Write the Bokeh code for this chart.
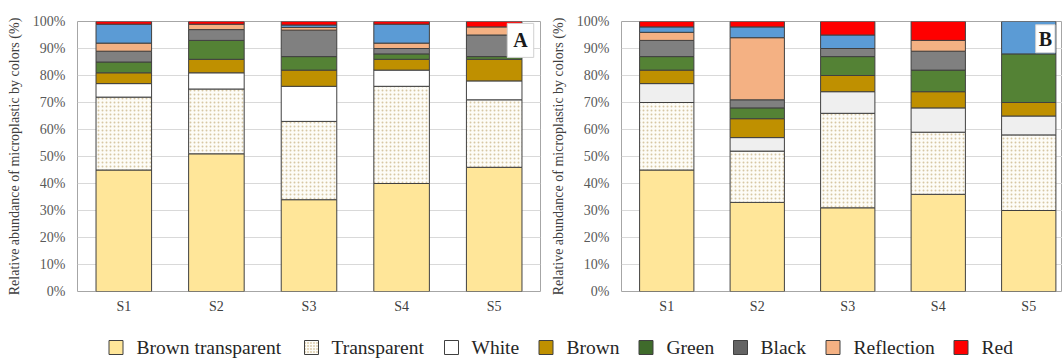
import numpy as np
from bokeh.plotting import figure
from bokeh.layouts import column, row
from bokeh.models import Range1d, FixedTicker, Label, ColumnDataSource
from bokeh.core.properties import value
from bokeh.embed import file_html
from bokeh.resources import INLINE

sites = ["S1", "S2", "S3", "S4", "S5"]
layer_names = ["Brown transparent", "Transparent", "White", "Brown", "Green",
               "Black", "Reflection", "Blue", "Red"]
legend_names = ["Brown transparent", "Transparent", "White", "Brown", "Green",
                "Black", "Reflection", "Red"]
y_ticks = [0, 10, 20, 30, 40, 50, 60, 70, 80, 90, 100]

# Panel A: relative abundance (%) of each colour per site
a_brown_transparent = [45, 51, 34, 40, 46]
a_transparent = [27, 24, 29, 36, 25]
a_white = [5, 6, 13, 6, 7]
a_brown = [4, 5, 6, 4, 8]
a_green = [4, 7, 5, 2, 1]
a_black = [4, 4, 9.8, 2, 8]
a_reflection = [3, 2, 1, 2, 3]
a_blue = [7, 0, 0.9, 7, 0]
a_red = [1, 1, 1.3, 1, 2]

# Panel B: relative abundance (%) of each colour per site
b_brown_transparent = [45, 33, 31, 36, 30]
b_transparent = [25, 19, 35, 23, 28]
b_white = [7, 5, 8, 9, 7]
b_brown = [5, 7, 6, 6, 5]
b_green = [5, 4, 7, 8, 18]
b_black = [6, 3, 3, 7, 0]
b_reflection = [3, 23, 0, 4, 0]
b_blue = [2, 4, 5, 0, 12]
b_red = [2, 2, 5, 7, 0]

SERIF = "'Liberation Serif', 'Times New Roman', serif"
OUTLINE = "#404040"

fills = {
    "Brown transparent": "#FFE699",
    "Transparent": "#FDFCF7",
    "White": "#FFFFFF",
    "Brown": "#BF9000",
    "Green": "#548235",
    "Black": "#808080",
    "Reflection": "#F4B183",
    "Blue": "#5B9BD5",
    "Red": "#FF0000",
}
legend_fills = dict(fills, Green="#3F6B2B", Black="#636363")


def layer_style(name, white_fill):
    style = dict(fill_color=fills[name], line_color=OUTLINE, line_width=1)
    if name == "White":
        style["fill_color"] = white_fill
    if name == "Transparent":
        style.update(hatch_pattern=".", hatch_color="#B89B5E", hatch_alpha=0.55,
                     hatch_scale=4, hatch_weight=1)
    return style


def make_panel(series, width, x_end, border_left, border_right, border_top,
               border_bottom, white_fill):
    p = figure(width=width, height=320, x_range=Range1d(-0.5, x_end),
               y_range=Range1d(0, 100), output_backend="svg",
               toolbar_location=None, min_border_left=border_left,
               min_border_right=border_right, min_border_top=border_top,
               min_border_bottom=border_bottom)
    p.background_fill_color = "white"
    p.border_fill_color = "white"
    p.outline_line_color = "#A6A6A6"
    p.outline_line_width = 1
    p.xgrid.grid_line_color = None
    p.ygrid.grid_line_color = "#D9D9D9"
    p.ygrid.ticker = FixedTicker(ticks=y_ticks)

    x = np.arange(len(sites))
    base = np.zeros(len(sites))
    for name, vals in zip(layer_names, series):
        vals = np.asarray(vals, dtype=float)
        keep = vals > 0
        src = ColumnDataSource(dict(x=x[keep], bottom=base[keep],
                                    top=(base + vals)[keep]))
        p.vbar(x="x", bottom="bottom", top="top", width=0.6, source=src,
               **layer_style(name, white_fill))
        base = base + vals

    xa = p.xaxis[0]
    xa.ticker = FixedTicker(ticks=list(range(len(sites))))
    xa.major_label_overrides = {i: s for i, s in enumerate(sites)}
    xa.axis_line_color = None
    xa.major_tick_line_color = None
    xa.minor_tick_line_color = None
    xa.major_tick_out = 0
    xa.major_tick_in = 0
    xa.major_label_standoff = 7
    xa.major_label_text_font = SERIF
    xa.major_label_text_font_size = "14px"
    xa.major_label_text_color = "#404040"

    ya = p.yaxis[0]
    ya.ticker = FixedTicker(ticks=y_ticks)
    ya.major_label_overrides = {t: f"{t}%" for t in y_ticks}
    ya.axis_line_color = None
    ya.major_tick_line_color = None
    ya.minor_tick_line_color = None
    ya.major_tick_out = 0
    ya.major_tick_in = 0
    ya.major_label_standoff = 12
    ya.major_label_text_font = SERIF
    ya.major_label_text_font_size = "14px"
    ya.major_label_text_color = "#595959"
    ya.axis_label = "Relative abundance of microplastic by colors (%)"
    ya.axis_label_text_font = SERIF
    ya.axis_label_text_font_size = "14px"
    ya.axis_label_text_font_style = "normal"
    ya.axis_label_text_color = "#404040"
    ya.axis_label_standoff = 8
    return p


series_a = [a_brown_transparent, a_transparent, a_white, a_brown, a_green,
            a_black, a_reflection, a_blue, a_red]
series_b = [b_brown_transparent, b_transparent, b_white, b_brown, b_green,
            b_black, b_reflection, b_blue, b_red]

pA = make_panel(series_a, 545, 4.5, 77, 5, 15, 26, "#FFFFFF")
pB = make_panel(series_b, 517, 4.373, 76, 0, 21, 29, "#EFEFEF")

pA.add_layout(Label(x=4.284, y=99.3, text="A", text_align="center",
                    text_baseline="top", text_font=SERIF, text_font_size="20px",
                    text_font_style="bold", text_color="#1A1A1A",
                    background_fill_color="white", border_line_color="#D0D0D0",
                    padding=6))
# panel letter pinned inside the right edge of the strip
pB.add_layout(Label(x=4.29, y=98.8, text="B", text_align="right",
                    text_baseline="top", text_font=SERIF, text_font_size="20px",
                    text_font_style="bold", text_color="#1A1A1A",
                    background_fill_color="white", border_line_color="#D0D0D0",
                    padding=3))

# Legend strip below both panels
leg = figure(width=1062, height=38, x_range=Range1d(0, 1062),
             y_range=Range1d(0, 38), output_backend="svg", toolbar_location=None,
             min_border=0, min_border_left=0, min_border_right=0,
             min_border_top=0, min_border_bottom=0)
leg.axis.visible = False
leg.grid.visible = False
leg.outline_line_color = None
leg.border_fill_color = "white"
leg.background_fill_color = "white"

swatch_x = [115.5, 311, 451, 545.5, 645.5, 740, 832.5, 960.5]
text_x = [136, 331, 471, 566, 666, 760, 853, 981]
for name, sx, tx in zip(legend_names, swatch_x, text_x):
    style = layer_style(name, "#FFFFFF")
    style["fill_color"] = legend_fills[name] if name != "White" else "#FFFFFF"
    if "hatch_scale" in style:
        style["hatch_scale"] = 3
        style["hatch_alpha"] = 0.9
    leg.rect(x=[sx], y=[11], width=14, height=14, **style)
    leg.text(x=[tx], y=[11], text=[name], text_font=value(SERIF),
             text_font_size="19.5px", text_baseline="middle",
             text_align="left", text_color="#262626")

layout = column(row(pA, pB), leg)
open("out.html", "w").write(file_html(layout, INLINE))
